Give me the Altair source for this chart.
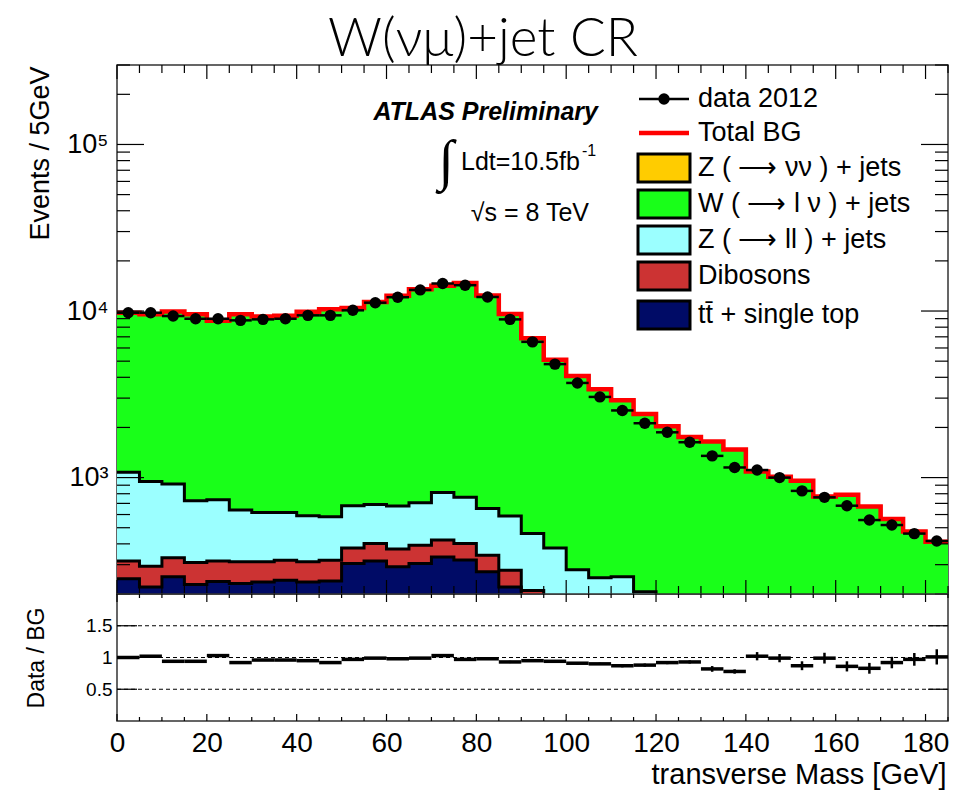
import altair as alt
import numpy as np
import pandas as pd

# ---------------------------------------------------------------- data
bin_edges = list(range(0, 190, 5))          # 0 ... 185 GeV, 5 GeV bins

data_2012 = [9770, 9770, 9330, 8990, 8990, 8790, 8910, 8990, 9420, 9420,
             10100, 11220, 12100, 13390, 14630, 14290, 12140, 8910, 6530, 4800,
             3700, 3050, 2530, 2120, 1870, 1630, 1350, 1150, 1110, 1000,
             832, 761, 678, 556, 519, 461, 416]

ttbar = [247, 220, 254, 228, 238, 231, 236, 242, 236, 239,
         305, 316, 291, 305, 334, 320, 272, 220, 150, 110,
         85, 65, 50, 40, 32, 26, 21, 17, 14, 12,
         10, 8, 7, 6, 5, 4, 4]

diboson = [69, 74, 76, 81, 78, 81, 76, 77, 76, 80,
           73, 86, 81, 88, 88, 82, 70, 58, 60, 40,
           30, 24, 20, 16, 13, 11, 9, 8, 7, 6,
           5, 4, 4, 3, 3, 3, 2]

z_ll = [761, 652, 586, 417, 419, 326, 306, 299, 278, 263,
        300, 288, 303, 313, 393, 359, 311, 310, 251, 228,
        165, 161, 184, 150, 100, 80, 65, 55, 45, 38,
        32, 27, 23, 20, 17, 15, 13]

w_lnu = [8693, 8632, 9010, 8838, 7993, 8916, 8663, 8747, 9326, 9657,
         9734, 10643, 11672, 12819, 13389, 13971, 11735, 8993, 6413, 4728,
         3786, 3139, 2654, 2203, 1888, 1636, 1551, 1394, 1022, 954,
         909, 730, 754, 641, 539, 453, 393]

z_nunu = [0] * 37

ratio_err = [0.012, 0.012, 0.012, 0.012, 0.012, 0.012, 0.012, 0.012, 0.012, 0.012,
             0.012, 0.012, 0.012, 0.012, 0.012, 0.012, 0.012, 0.018, 0.018, 0.018,
             0.018, 0.018, 0.025, 0.025, 0.025, 0.025, 0.045, 0.035, 0.065, 0.065,
             0.07, 0.085, 0.08, 0.085, 0.09, 0.10, 0.12]

ARROW = "\u27f6"
legend_labels = ["data 2012", "Total BG", f"Z ( {ARROW} \u03bd\u03bd ) + jets",
                 f"W ( {ARROW} l \u03bd ) + jets", f"Z ( {ARROW} ll ) + jets",
                 "Dibosons", "tt\u0304 + single top"]

# stack order, bottom to top
processes = [
    (legend_labels[6], ttbar, "#000b66"),
    (legend_labels[5], diboson, "#cc3333"),
    (legend_labels[4], z_ll, "#9bffff"),
    (legend_labels[3], w_lnu, "#19ff19"),
    (legend_labels[2], z_nunu, "#ffcc00"),
]

# ---------------------------------------------------------------- tables
lo = bin_edges[:-1]
hi = bin_edges[1:]
mid = [(a + b) / 2 for a, b in zip(lo, hi)]
nb = len(lo)

rows = []
cum = np.zeros(nb)
for name, vals, _ in processes:
    bottom = cum.copy()
    top = cum + np.array(vals, dtype=float)
    for i in range(nb):
        rows.append(dict(proc=name, x=lo[i], bottom=max(bottom[i], 1.0), top=top[i]))
    rows.append(dict(proc=name, x=hi[-1], bottom=max(bottom[-1], 1.0), top=top[-1]))
    cum = top
stack_df = pd.DataFrame(rows)
total = cum

total_df = pd.DataFrame({"x": lo + [hi[-1]], "total": list(total) + [total[-1]]})
data_df = pd.DataFrame({"lo": lo, "hi": hi, "mid": mid, "data": data_2012})
ratio_df = pd.DataFrame({"lo": lo, "hi": hi, "mid": mid,
                         "ratio": np.array(data_2012) / total,
                         "err": ratio_err})
ratio_df["rlo"] = ratio_df["ratio"] - ratio_df["err"]
ratio_df["rhi"] = ratio_df["ratio"] + ratio_df["err"]

xt = pd.DataFrame({"v": list(range(0, 186, 5))})
xt["major"] = xt["v"] % 20 == 0
y_minor = [k * 10 ** e for e in (2, 3, 4, 5) for k in range(2, 10) if 200 <= k * 10 ** e <= 3.0e5]
yt = pd.DataFrame({"v": [1e3, 1e4, 1e5] + y_minor,
                   "major": [True] * 3 + [False] * len(y_minor)})
guide_df = pd.DataFrame({"g": [0.5, 1.0, 1.5]})

# ---------------------------------------------------------------- geometry / style
W, H, HR = 831, 529, 127
FONT = "Liberation Sans"
x_scale = alt.Scale(domain=[0, 185], nice=False, zero=False)
y_scale = alt.Scale(type="log", domain=[200, 3.0e5], nice=False)
r_scale = alt.Scale(domain=[0, 2], nice=False, zero=False)

main_y_axis = alt.Axis(values=[1000, 10000, 100000],
                       labelExpr="datum.value == 1000 ? '10\u00b3' : datum.value == 10000 ? '10\u2074' : '10\u2075'",
                       ticks=False, domain=False, grid=False,
                       labelFontSize=27, labelPadding=9, labelFont=FONT, labelColor="black",
                       title="Events / 5GeV", titleFont=FONT, titleFontSize=27,
                       titleFontWeight="normal", titleColor="black",
                       titleAngle=270, titleAlign="right", titleBaseline="middle",
                       titleX=-77, titleY=1)

ratio_y_axis = alt.Axis(values=[0.5, 1, 1.5], format="~g",
                        ticks=False, domain=False, grid=False,
                        labelFontSize=19, labelPadding=5, labelFont=FONT, labelColor="black",
                        title="Data / BG", titleFont=FONT, titleFontSize=23,
                        titleFontWeight="normal", titleColor="black",
                        titleAngle=270, titleAlign="center", titleBaseline="middle",
                        titleX=-81, titleY=HR / 2)

ratio_x_axis = alt.Axis(values=list(range(0, 181, 20)), labelFlush=False,
                        ticks=False, domain=False, grid=False,
                        labelFontSize=28, labelPadding=8, labelFont=FONT, labelColor="black",
                        title="transverse Mass [GeV]", titleFont=FONT, titleFontSize=29,
                        titleFontWeight="normal", titleColor="black",
                        titleAlign="right", titleBaseline="alphabetic",
                        titleX=W - 2, titleY=62)


def mx(field):
    return alt.X(field, type="quantitative", scale=x_scale, axis=None)


def my(field):
    return alt.Y(field, type="quantitative", scale=y_scale, axis=main_y_axis, stack=None)


def rx(field):
    return alt.X(field, type="quantitative", scale=x_scale, axis=ratio_x_axis)


def ry(field):
    return alt.Y(field, type="quantitative", scale=r_scale, axis=ratio_y_axis)


# ---------------------------------------------------------------- main panel
names = [p[0] for p in processes]
colors = [p[2] for p in processes]

fills = alt.Chart(stack_df).mark_area(interpolate="step-after", clip=True).encode(
    x=mx("x"), y=my("top"), y2="bottom",
    color=alt.Color("proc:N", scale=alt.Scale(domain=names, range=colors), legend=None),
)
outlines = alt.Chart(stack_df).mark_line(
    interpolate="step-after", clip=True, color="black", strokeWidth=3
).encode(x=mx("x"), y=my("top"), detail="proc:N")

total_line = alt.Chart(total_df).mark_line(
    interpolate="step-after", clip=True, color="#ff0000", strokeWidth=4.5
).encode(x=mx("x"), y=my("total"))

data_bars = alt.Chart(data_df).mark_rule(color="black", strokeWidth=2.5, clip=True).encode(
    x=mx("lo"), x2="hi", y=my("data"))
data_dots = alt.Chart(data_df).mark_circle(color="black", opacity=1, size=130, clip=True).encode(
    x=mx("mid"), y=my("data"))

tick_rule = dict(color="black", strokeWidth=1.2)
xt_major = alt.Chart(xt).transform_filter("datum.major")
xt_minor = alt.Chart(xt).transform_filter("!datum.major")
yt_major = alt.Chart(yt).transform_filter("datum.major")
yt_minor = alt.Chart(yt).transform_filter("!datum.major")

main_ticks = [
    xt_major.mark_rule(**tick_rule).encode(x=mx("v"), y=alt.value(H), y2=alt.value(H - 14)),
    xt_minor.mark_rule(**tick_rule).encode(x=mx("v"), y=alt.value(H), y2=alt.value(H - 8)),
    xt_major.mark_rule(**tick_rule).encode(x=mx("v"), y=alt.value(0), y2=alt.value(14)),
    xt_minor.mark_rule(**tick_rule).encode(x=mx("v"), y=alt.value(0), y2=alt.value(8)),
    yt_major.mark_rule(**tick_rule).encode(y=my("v"), x=alt.value(0), x2=alt.value(27)),
    yt_minor.mark_rule(**tick_rule).encode(y=my("v"), x=alt.value(0), x2=alt.value(13)),
    yt_major.mark_rule(**tick_rule).encode(y=my("v"), x=alt.value(W), x2=alt.value(W - 27)),
    yt_minor.mark_rule(**tick_rule).encode(y=my("v"), x=alt.value(W), x2=alt.value(W - 13)),
]

# legend (drawn inside the frame, ROOT style)
one = pd.DataFrame({"k": [0]})
LEG_X0, LEG_X1, LEG_XT = 522, 572, 581
LEG_ROWS = [34, 68, 103, 139, 175, 211, 250]
BOX = "M-1,-0.54H1V0.54H-1Z"
fill_of = dict(zip(names, colors))
legend_layers = []
for i, label in enumerate(legend_labels):
    yy = LEG_ROWS[i]
    legend_layers.append(alt.Chart(one).mark_text(
        text=label, align="left", baseline="middle", font=FONT, fontSize=27, color="black"
    ).encode(x=alt.value(LEG_XT), y=alt.value(yy)))
    if i == 0:
        legend_layers.append(alt.Chart(one).mark_rule(color="black", strokeWidth=2.5).encode(
            x=alt.value(LEG_X0), x2=alt.value(LEG_X1), y=alt.value(yy)))
        legend_layers.append(alt.Chart(one).mark_circle(color="black", opacity=1, size=130).encode(
            x=alt.value((LEG_X0 + LEG_X1) / 2), y=alt.value(yy)))
    elif i == 1:
        legend_layers.append(alt.Chart(one).mark_rule(color="#ff0000", strokeWidth=4.5).encode(
            x=alt.value(LEG_X0), x2=alt.value(LEG_X1), y=alt.value(yy)))
    else:
        legend_layers.append(alt.Chart(one).mark_point(
            shape=BOX, size=52 * 52, filled=True, fill=fill_of[label], stroke="black",
            strokeWidth=3, opacity=1, fillOpacity=1, strokeOpacity=1
        ).encode(x=alt.value((LEG_X0 + LEG_X1) / 2), y=alt.value(yy)))

# annotations
texts = [
    alt.Chart(one).mark_text(text="W(\u03bd\u03bc)+jet CR", align="center", baseline="alphabetic",
                             font="Lato", fontWeight=300, fontSize=53, color="black")
    .encode(x=alt.value(366), y=alt.value(-9)),
    alt.Chart(one).mark_text(text="ATLAS Preliminary", align="right", baseline="alphabetic",
                             font=FONT, fontSize=25, fontWeight="bold", fontStyle="italic", color="black")
    .encode(x=alt.value(481), y=alt.value(55)),
    alt.Chart(one).mark_text(text="\u222b", align="center", baseline="alphabetic",
                             font="DejaVu Sans", fontWeight=200, fontSize=56, color="black")
    .encode(x=alt.value(329), y=alt.value(114)),
    alt.Chart(one).mark_text(text="Ldt=10.5fb", align="left", baseline="alphabetic",
                             font=FONT, fontSize=25, color="black")
    .encode(x=alt.value(344), y=alt.value(105)),
    alt.Chart(one).mark_text(text="-1", align="left", baseline="alphabetic",
                             font=FONT, fontSize=16, color="black")
    .encode(x=alt.value(465), y=alt.value(91)),
    alt.Chart(one).mark_text(text="\u221as = 8 TeV", align="right", baseline="alphabetic",
                             font=FONT, fontSize=25, color="black")
    .encode(x=alt.value(472), y=alt.value(156)),
]

main = alt.layer(fills, outlines, total_line, data_bars, data_dots,
                 *main_ticks, *legend_layers, *texts).properties(width=W, height=H)

# ---------------------------------------------------------------- ratio panel
guides = alt.Chart(guide_df).mark_rule(color="black", strokeWidth=1, strokeDash=[4, 3]).encode(
    y=ry("g"), x=alt.value(0), x2=alt.value(W))
r_bars = alt.Chart(ratio_df).mark_rule(color="black", strokeWidth=3.5, clip=True).encode(
    x=rx("lo"), x2="hi", y=ry("ratio"))
r_err = alt.Chart(ratio_df).mark_rule(color="black", strokeWidth=2.5, clip=True).encode(
    x=rx("mid"), y=ry("rlo"), y2="rhi")

ratio_ticks = [
    xt_major.mark_rule(**tick_rule).encode(x=rx("v"), y=alt.value(HR), y2=alt.value(HR - 7)),
    xt_minor.mark_rule(**tick_rule).encode(x=rx("v"), y=alt.value(HR), y2=alt.value(HR - 4)),
    xt_major.mark_rule(**tick_rule).encode(x=rx("v"), y=alt.value(0), y2=alt.value(8)),
    xt_minor.mark_rule(**tick_rule).encode(x=rx("v"), y=alt.value(0), y2=alt.value(4)),
    alt.Chart(guide_df).mark_rule(**tick_rule).encode(y=ry("g"), x=alt.value(0), x2=alt.value(20)),
    alt.Chart(guide_df).mark_rule(**tick_rule).encode(y=ry("g"), x=alt.value(W), x2=alt.value(W - 20)),
]

ratio = alt.layer(guides, *ratio_ticks, r_bars, r_err).properties(width=W, height=HR)

chart = (
    alt.vconcat(main, ratio, spacing=0, bounds="flush")
    .configure(padding={"left": 24, "top": 13, "right": 5, "bottom": 0})
    .configure_view(stroke="#333333", strokeWidth=1.5)
    .configure_concat(spacing=0)
)

chart.save("out.html", embed_options={"renderer": "svg", "actions": False})
